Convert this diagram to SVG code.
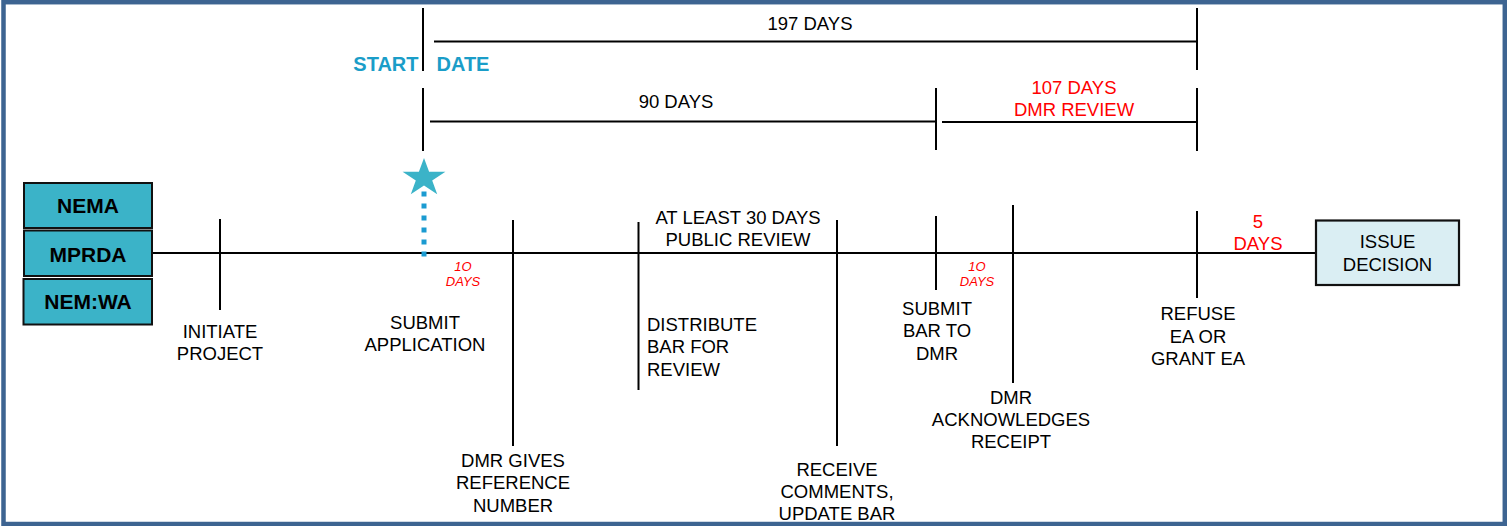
<svg xmlns="http://www.w3.org/2000/svg" width="1507" height="526" viewBox="0 0 1507 526">
<style>
text{font-family:"Liberation Sans",Arial,sans-serif;font-size:18.5px;fill:#000}
.c{text-anchor:middle}
.b{font-weight:bold;font-size:21px}
.red{fill:#ff0000}
.sm{font-size:13px;font-style:italic;fill:#ff0000;text-anchor:middle}
.sd{font-weight:bold;font-size:20px;fill:#1a9dc8}
.ln{stroke:#000;stroke-width:2;fill:none}
.law{fill:#3bb3c8;stroke:#111;stroke-width:2}
</style>
<rect x="3.5" y="2.2" width="1501.3" height="521.8" fill="#fff" stroke="#3d6491" stroke-width="4.5"/>

<g id="connectors">
<line class="ln" x1="153" y1="253" x2="1315" y2="253"/>
<line x1="424" y1="191.5" x2="424" y2="257" stroke="#1b9bd1" stroke-width="5" stroke-dasharray="5 7"/>
</g>

<g id="laws">
<g id="nema"><rect class="law" x="24" y="183" width="128" height="45"/><text class="b c" x="88" y="213">NEMA</text></g>
<g id="mprda"><rect class="law" x="24" y="230.5" width="128" height="45.5"/><text class="b c" x="88" y="262">MPRDA</text></g>
<g id="nemwa"><rect class="law" x="23.5" y="279" width="128.5" height="45.5"/><text class="b c" x="88" y="309">NEM:WA</text></g>
</g>

<g id="start-date">
<line class="ln" x1="423" y1="8" x2="423" y2="71"/>
<line class="ln" x1="423" y1="88" x2="423" y2="151"/>
<text class="sd" x="418.5" y="71" text-anchor="end">START</text>
<text class="sd" x="436.5" y="71">DATE</text>
<polygon fill="#3bb3c8" points="424,158 429.1,171.8 445.4,171.8 432.2,180.4 437.2,194.2 424,185.6 410.8,194.2 415.8,180.4 402.6,171.8 418.9,171.8"/>
</g>

<g id="span-197">
<line class="ln" x1="434" y1="41.5" x2="1197" y2="41.5"/>
<line class="ln" x1="1197" y1="8" x2="1197" y2="70"/>
<text class="c" x="810" y="30">197 DAYS</text>
</g>

<g id="span-90">
<line class="ln" x1="430" y1="121.5" x2="936" y2="121.5"/>
<line class="ln" x1="936" y1="88" x2="936" y2="150"/>
<text class="c" x="676" y="108">90 DAYS</text>
</g>

<g id="span-107">
<line class="ln" x1="942" y1="122" x2="1197" y2="122"/>
<line class="ln" x1="1197" y1="88" x2="1197" y2="151"/>
<text class="c red" x="1074" y="94">107 DAYS</text>
<text class="c red" x="1074" y="116">DMR REVIEW</text>
</g>

<g id="initiate">
<line class="ln" x1="220" y1="219" x2="220" y2="310"/>
<text class="c" x="220" y="338">INITIATE</text>
<text class="c" x="220" y="360">PROJECT</text>
</g>

<g id="submit-application">
<text class="c" x="425" y="329">SUBMIT</text>
<text class="c" x="425" y="351">APPLICATION</text>
<text class="sm" x="463" y="271">1O</text>
<text class="sm" x="463" y="286">DAYS</text>
</g>

<g id="dmr-gives">
<line class="ln" x1="513" y1="220" x2="513" y2="446"/>
<text class="c" x="513" y="467">DMR GIVES</text>
<text class="c" x="513" y="489">REFERENCE</text>
<text class="c" x="513" y="512">NUMBER</text>
</g>

<g id="distribute">
<line class="ln" x1="638.5" y1="222" x2="638.5" y2="390"/>
<text x="647" y="331">DISTRIBUTE</text>
<text x="647" y="353">BAR FOR</text>
<text x="647" y="376">REVIEW</text>
</g>

<g id="public-review">
<text class="c" x="738" y="224">AT LEAST 30 DAYS</text>
<text class="c" x="738" y="246">PUBLIC REVIEW</text>
</g>

<g id="receive-comments">
<line class="ln" x1="837" y1="220" x2="837" y2="446"/>
<text class="c" x="837" y="476">RECEIVE</text>
<text class="c" x="837" y="498">COMMENTS,</text>
<text class="c" x="837" y="520">UPDATE BAR</text>
</g>

<g id="submit-bar">
<line class="ln" x1="936" y1="216" x2="936" y2="290"/>
<text class="c" x="937" y="315">SUBMIT</text>
<text class="c" x="937" y="337">BAR TO</text>
<text class="c" x="937" y="360">DMR</text>
<text class="sm" x="977" y="271">1O</text>
<text class="sm" x="977" y="286">DAYS</text>
</g>

<g id="dmr-ack">
<line class="ln" x1="1013" y1="205" x2="1013" y2="383"/>
<text class="c" x="1011" y="404">DMR</text>
<text class="c" x="1011" y="426">ACKNOWLEDGES</text>
<text class="c" x="1011" y="448">RECEIPT</text>
</g>

<g id="refuse-grant">
<line class="ln" x1="1197" y1="211" x2="1197" y2="298"/>
<text class="c" x="1198" y="320">REFUSE</text>
<text class="c" x="1198" y="343">EA OR</text>
<text class="c" x="1198" y="365">GRANT EA</text>
<text class="c red" x="1258" y="228">5</text>
<text class="c red" x="1258" y="250">DAYS</text>
</g>

<g id="issue-decision">
<rect x="1316" y="220.5" width="143" height="64.5" fill="#daeef3" stroke="#111" stroke-width="2.2"/>
<text class="c" x="1387.5" y="248">ISSUE</text>
<text class="c" x="1387.5" y="271">DECISION</text>
</g>
</svg>
